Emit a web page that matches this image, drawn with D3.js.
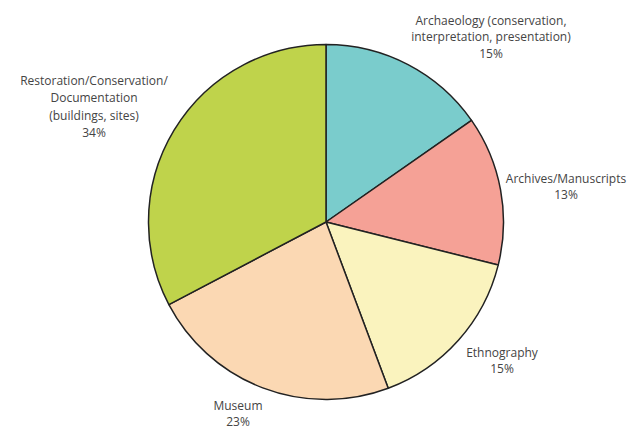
<!DOCTYPE html>
<html>
<head>
<meta charset="utf-8">
<script src="https://cdn.jsdelivr.net/npm/d3@7"></script>
<style>
  html, body { margin: 0; padding: 0; background: #fff; }
  svg { display: block; }
  text { font-family: "Open Sans", "DejaVu Sans", sans-serif; font-size: 12px; fill: #444; }
</style>
</head>
<body>
<svg id="chart" width="641" height="429"></svg>
<script>
// Data
const categories = [
  "Archaeology (conservation, interpretation, presentation)",
  "Archives/Manuscripts",
  "Ethnography",
  "Museum",
  "Restoration/Conservation/Documentation (buildings, sites)"
];
const values = [15.3, 13.6, 15.4, 23.0, 32.7];
const percentLabels = ["15%", "13%", "15%", "23%", "34%"];
const labelLines = [
  ["Archaeology (conservation,", "interpretation, presentation)"],
  ["Archives/Manuscripts"],
  ["Ethnography"],
  ["Museum"],
  ["Restoration/Conservation/", "Documentation", "(buildings, sites)"]
];

// Styling / layout
const colors = ["#7ACCCC", "#F5A196", "#FAF3BE", "#FBD8B3", "#BFD34B"];
const cx = 326, cy = 222, r = 177.5;
const labelPos = [
  {x: 491, y: 20, dy: 16.5},
  {x: 566, y: 178, dy: 16},
  {x: 502, y: 352, dy: 16},
  {x: 238, y: 405, dy: 16.5},
  {x: 94, y: 80, dy: 17.5}
];

const svg = d3.select("#chart");
const g = svg.append("g").attr("transform", `translate(${cx},${cy})`);

const pie = d3.pie().sort(null).value(d => d);
const arc = d3.arc().innerRadius(0).outerRadius(r);

g.selectAll("path")
  .data(pie(values))
  .join("path")
  .attr("d", arc)
  .attr("fill", (d, i) => colors[i])
  .attr("stroke", "#222")
  .attr("stroke-width", 1.5)
  .attr("stroke-linejoin", "round");

categories.forEach((c, i) => {
  const lines = labelLines[i].concat([percentLabels[i]]);
  const p = labelPos[i];
  const t = svg.append("text")
    .attr("text-anchor", "middle");
  lines.forEach((ln, j) => {
    t.append("tspan")
      .attr("x", p.x)
      .attr("y", p.y + j * p.dy)
      .attr("dominant-baseline", "central")
      .text(ln);
  });
});
</script>
</body>
</html>
